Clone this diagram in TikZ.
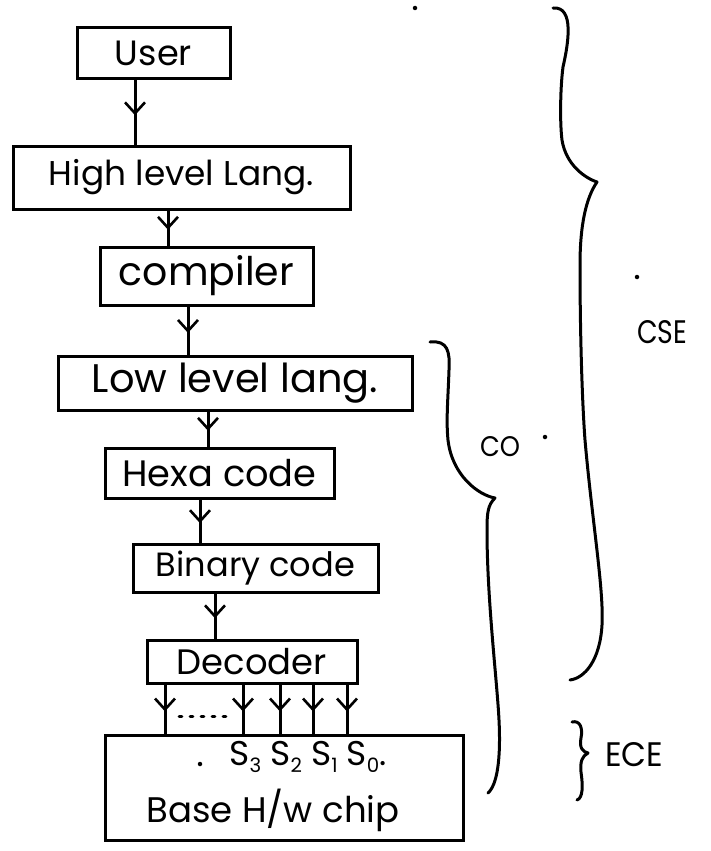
\documentclass[tikz,border=0pt]{standalone}
\usepackage{fontspec}
\setmainfont{Poppins}
\usepackage{graphicx}
\usetikzlibrary{arrows.meta,decorations.markings}
\newcommand{\fitw}[2]{\resizebox{#1pt}{!}{#2}}
\newcommand{\fitwh}[3]{\resizebox{#1pt}{#2pt}{#3}}
\newcommand{\subsc}[1]{\raisebox{-5pt}{\fontsize{15}{15}\selectfont #1}}
\tikzset{
  box/.style={draw, line width=3pt, rectangle, inner sep=0pt},
  flow/.style={line width=3pt, postaction={decorate},
    decoration={markings, mark=at position 0.55 with {\arrow{Straight Barb[length=11pt,width=20pt,line width=2.6pt]}}}},
  bracepath/.style={line width=3pt, line cap=round, line join=round},
  dotsline/.style={line width=2.8pt, line cap=round, dash pattern=on 3pt off 8pt},
  lbl/.style={inner sep=0pt},
  speck/.style={fill=black, draw=none, circle, inner sep=0pt, minimum size=4.5pt},
}
\begin{document}
\begin{tikzpicture}[x=1pt,y=-1pt]
\useasboundingbox (0,0) rectangle (710,851);
\fontsize{26}{30}\selectfont
% boxes
\node[box, minimum width=153pt, minimum height=50pt] (user) at (153.5,53) {\fitw{77}{User}};
\node[box, minimum width=337pt, minimum height=63pt] (hll) at (181.5,177.5) {\fitw{265}{High level Lang.}};
\node[box, minimum width=213pt, minimum height=58pt] (comp) at (206.5,276) {\fitw{175}{compiler}};
\node[box, minimum width=354pt, minimum height=54pt] (low) at (235,383) {\fitw{286}{Low level lang.}};
\node[box, minimum width=229pt, minimum height=50pt] (hexa) at (219.5,473) {\fitw{194}{Hexa code}};
\node[box, minimum width=245pt, minimum height=48pt] (bin) at (255.5,568) {\fitw{199}{Binary code}};
\node[box, minimum width=210pt, minimum height=43pt] (dec) at (252,661.5) {\fitw{150}{Decoder}};
\node[box, minimum width=358pt, minimum height=105pt] (chip) at (284,787.5) {};
\node[lbl] (sig) at (308,757) {\fitw{157}{S\subsc{3} S\subsc{2} S\subsc{1} S\subsc{0}.}};
\node[speck] (sdot) at (200,764) {};
\node[lbl] (base) at (273,810) {\fitw{253}{Base H/w chip}};
% arrow x positions
\coordinate (a1) at (135,0);
\coordinate (a2) at (168,0);
\coordinate (a3) at (188,0);
\coordinate (a4) at (208,0);
\coordinate (a5) at (200,0);
\coordinate (a6) at (215,0);
\draw[flow] (user.south -| a1) -- (hll.north -| a1);
\draw[flow] (hll.south -| a2) -- (comp.north -| a2);
\draw[flow] (comp.south -| a3) -- (low.north -| a3);
\draw[flow] (low.south -| a4) -- (hexa.north -| a4);
\draw[flow] (hexa.south -| a5) -- (bin.north -| a5);
\draw[flow] (bin.south -| a6) -- (dec.north -| a6);
\foreach \i/\x in {1/165,2/243,3/280,4/313,5/347}{
  \coordinate (d\i) at (\x,0);
  \draw[flow] (dec.south -| d\i) -- coordinate[pos=0.66] (m\i) (chip.north -| d\i);
}
\draw[dotsline] ([xshift=14pt]m1) -- ([xshift=-14pt]m2);
% braces
\draw[bracepath] (553,8) .. controls (575,6) and (568,45) .. (563,67)
  .. controls (560,90) and (560,125) .. (562,140)
  .. controls (566,165) and (585,178) .. (597,182)
  .. controls (586,198) and (580,225) .. (580,265)
  .. controls (580,330) and (582,400) .. (585,440)
  .. controls (592,520) and (604,590) .. (602,625)
  .. controls (600,660) and (585,678) .. (570,680);
\draw[bracepath] (430,342) .. controls (448,340) and (450,352) .. (449,370)
  .. controls (448,400) and (446,420) .. (448,440)
  .. controls (452,475) and (478,495) .. (495,498)
  .. controls (488,505) and (487,512) .. (487,530)
  .. controls (487,600) and (497,680) .. (499,720)
  .. controls (501,760) and (497,785) .. (488,793);
\draw[bracepath] (572,722) .. controls (580,720) and (583,728) .. (581,738)
  .. controls (579,748) and (583,752) .. (588,753)
  .. controls (582,756) and (580,762) .. (581,772)
  .. controls (583,786) and (583,798) .. (577,800);
% brace labels
\node[lbl] (cse) at (662,332) {\fitwh{50}{23}{CSE}};
\node[lbl] (co) at (500,447) {\fitwh{40}{20}{CO}};
\node[lbl] (ece) at (634,755) {\fitwh{58}{24}{ECE}};
% specks
\node[speck] (p1) at (637,277) {};
\node[speck] (p2) at (545,437) {};
\node[speck] (p3) at (415,8) {};
\end{tikzpicture}
\end{document}
